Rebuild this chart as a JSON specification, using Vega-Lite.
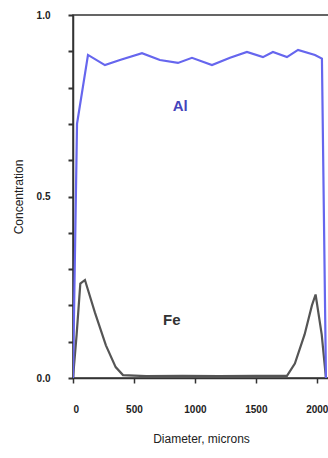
{
  "$schema": "https://vega.github.io/schema/vega-lite/v6.json",
  "autosize": {"type": "none"},
  "padding": {"left": 73, "top": 15, "right": 0, "bottom": 80},
  "width": 256,
  "height": 363,
  "background": "white",
  "config": {
    "view": {"stroke": "#333", "strokeWidth": 1.5},
    "font": "Liberation Sans"
  },
  "datasets": {
    "lines": [
      {"d": 0, "v": 0, "s": "Fe"},
      {"d": 30, "v": 0.12, "s": "Fe"},
      {"d": 60, "v": 0.26, "s": "Fe"},
      {"d": 98, "v": 0.27, "s": "Fe"},
      {"d": 180, "v": 0.18, "s": "Fe"},
      {"d": 270, "v": 0.09, "s": "Fe"},
      {"d": 350, "v": 0.03, "s": "Fe"},
      {"d": 410, "v": 0.008, "s": "Fe"},
      {"d": 600, "v": 0.005, "s": "Fe"},
      {"d": 900, "v": 0.006, "s": "Fe"},
      {"d": 1200, "v": 0.005, "s": "Fe"},
      {"d": 1500, "v": 0.006, "s": "Fe"},
      {"d": 1755, "v": 0.006, "s": "Fe"},
      {"d": 1820, "v": 0.04, "s": "Fe"},
      {"d": 1900, "v": 0.12, "s": "Fe"},
      {"d": 1960, "v": 0.2, "s": "Fe"},
      {"d": 1990, "v": 0.23, "s": "Fe"},
      {"d": 2040, "v": 0.12, "s": "Fe"},
      {"d": 2075, "v": 0, "s": "Fe"},
      {"d": 0, "v": 0, "s": "Al"},
      {"d": 33, "v": 0.7, "s": "Al"},
      {"d": 123, "v": 0.89, "s": "Al"},
      {"d": 262, "v": 0.862, "s": "Al"},
      {"d": 385, "v": 0.876, "s": "Al"},
      {"d": 566, "v": 0.895, "s": "Al"},
      {"d": 713, "v": 0.876, "s": "Al"},
      {"d": 861, "v": 0.868, "s": "Al"},
      {"d": 976, "v": 0.882, "s": "Al"},
      {"d": 1140, "v": 0.862, "s": "Al"},
      {"d": 1288, "v": 0.882, "s": "Al"},
      {"d": 1427, "v": 0.898, "s": "Al"},
      {"d": 1558, "v": 0.884, "s": "Al"},
      {"d": 1640, "v": 0.898, "s": "Al"},
      {"d": 1755, "v": 0.884, "s": "Al"},
      {"d": 1846, "v": 0.904, "s": "Al"},
      {"d": 1985, "v": 0.89, "s": "Al"},
      {"d": 2042, "v": 0.88, "s": "Al"},
      {"d": 2075, "v": 0, "s": "Al"}
    ],
    "labels": [
      {"d": 880, "v": 0.75, "t": "Al", "s": "Al"},
      {"d": 810, "v": 0.16, "t": "Fe", "s": "Fe"}
    ]
  },
  "encoding": {
    "x": {
      "field": "d", "type": "quantitative",
      "scale": {"domain": [0, 2100], "nice": false},
      "axis": {
        "values": [0, 500, 1000, 1500, 2000],
        "format": "d",
        "title": "Diameter, microns",
        "grid": false, "domainColor": "#333", "domainWidth": 1.5,
        "tickColor": "#333", "tickSize": 5, "tickWidth": 1.5,
        "labelPadding": 21, "labelFontSize": 10, "labelFontWeight": "bold", "labelColor": "#222",
        "labelOverlap": false,
        "titleFontSize": 12, "titleFontWeight": "normal", "titleColor": "#222", "titlePadding": 19
      }
    },
    "y": {
      "field": "v", "type": "quantitative",
      "scale": {"domain": [0, 1], "nice": false},
      "axis": {
        "values": [0, 0.1, 0.2, 0.3, 0.4, 0.5, 0.6, 0.7, 0.8, 0.9, 1.0],
        "labelExpr": "abs(datum.value - 0) < 0.001 || abs(datum.value - 0.5) < 0.001 || abs(datum.value - 1) < 0.001 ? format(datum.value, '.1f') : ''",
        "labelOverlap": false,
        "title": "Concentration",
        "grid": false, "domainColor": "#333", "domainWidth": 1.5,
        "tickColor": "#333", "tickSize": 5, "tickWidth": 2,
        "labelPadding": 18, "labelFontSize": 10, "labelFontWeight": "bold", "labelColor": "#222",
        "titleFontSize": 12, "titleFontWeight": "normal", "titleColor": "#222", "titlePadding": 11
      }
    }
  },
  "layer": [
    {
      "data": {"name": "lines"},
      "mark": {"type": "line", "strokeWidth": 2.2, "clip": true},
      "encoding": {
        "color": {
          "field": "s", "type": "nominal",
          "scale": {"domain": ["Al", "Fe"], "range": ["#6666ee", "#555555"]},
          "legend": null
        },
        "detail": {"field": "s"}
      }
    },
    {
      "data": {"name": "labels"},
      "mark": {"type": "text", "fontSize": 15, "fontWeight": "bold"},
      "encoding": {
        "text": {"field": "t"},
        "color": {
          "field": "s", "type": "nominal",
          "scale": {"domain": ["Al", "Fe"], "range": ["#4444bb", "#333333"]},
          "legend": null
        }
      }
    }
  ],
  "resolve": {"scale": {"color": "independent"}}
}
